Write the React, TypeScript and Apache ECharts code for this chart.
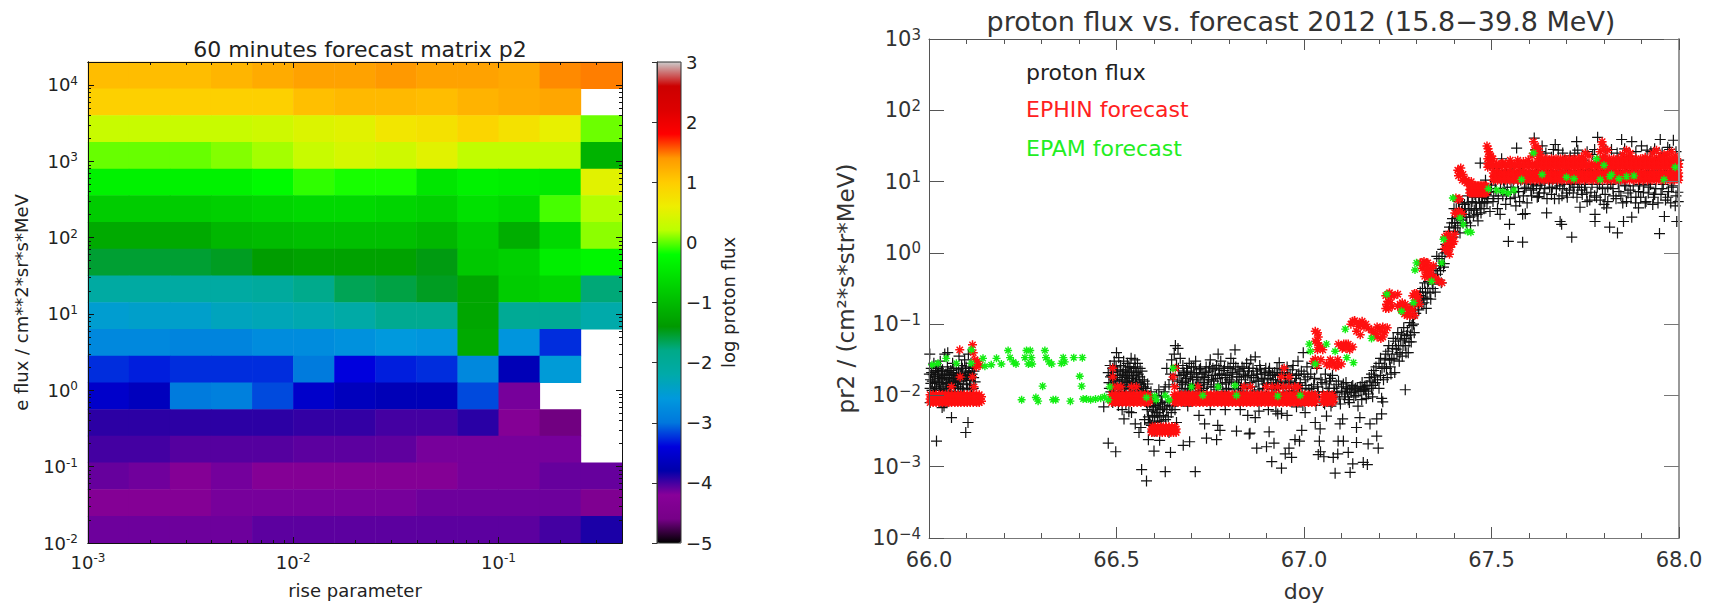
import React, { useEffect, useRef } from "react";
import * as echarts from "echarts";

// ---------- left panel: forecast matrix (log proton flux), rows listed from top to bottom ----------
const riseBins = ["1","2","3","4","5","6","7","8","9","10","11","12","13"];
const fluxBins = ["1","2","3","4","5","6","7","8","9","10","11","12","13","14","15","16","17","18"];
const matrixRows: (number | null)[][] = [
  [1.12,1.12,1.12,1.18,1.26,1.33,1.33,1.4,1.33,1.33,1.28,1.44,1.47],
  [0.95,0.95,0.95,0.95,0.95,1.1,1.15,1.15,1.12,1.2,1.25,1.3,null],
  [0.3,0.3,0.3,0.3,0.35,0.45,0.5,0.7,0.75,0.9,0.75,0.55,0.03],
  [0.02,0.02,0.02,0.08,0.15,0.3,0.4,0.35,0.5,0.25,0.25,0.25,-1.1],
  [-0.35,-0.35,-0.35,-0.35,-0.25,-0.1,-0.15,-0.15,-0.5,-0.35,-0.4,-0.45,0.5],
  [-0.8,-0.8,-0.8,-0.75,-0.7,-0.65,-0.65,-0.7,-0.75,-0.55,-0.65,-0.05,0.18],
  [-1.2,-1.2,-1.2,-1.05,-1,-0.95,-0.95,-0.95,-1.05,-0.8,-1.15,-0.65,0.1],
  [-1.55,-1.55,-1.55,-1.5,-1.35,-1.3,-1.3,-1.3,-1.45,-0.85,-0.75,-0.4,-0.3],
  [-2.1,-2.1,-2.1,-2.1,-2.05,-1.85,-1.65,-1.6,-1.5,-1.25,-0.8,-0.7,-1.75],
  [-2.5,-2.45,-2.45,-2.35,-2.3,-2.25,-2.15,-1.9,-1.9,-1.25,-1.95,-1.95,-2.2],
  [-2.8,-2.8,-2.85,-2.85,-2.75,-2.75,-2.7,-2.6,-2.65,-1.2,-2.65,-3.25,null],
  [-3.25,-3.3,-3.25,-3.25,-3.25,-2.95,-3.4,-3.3,-3.25,-2.8,-3.7,-2.55,null],
  [-3.55,-3.65,-2.95,-2.9,-3.15,-3.55,-3.65,-3.7,-3.7,-3.15,-4.15,null,null],
  [-3.93,-3.93,-3.93,-3.93,-3.93,-3.95,-3.95,-4,-4,-3.92,-4.3,-4.62,null],
  [-4,-4,-4.05,-4.05,-4.05,-4.07,-4.07,-4.08,-4.15,-4.15,-4.15,-4.15,null],
  [-4.1,-4.13,-4.3,-4.14,-4.3,-4.3,-4.3,-4.3,-4.3,-4.15,-4.15,-4.1,-4.1],
  [-4.3,-4.3,-4.3,-4.15,-4.15,-4.15,-4.15,-4.15,-4.12,-4.12,-4.12,-4.12,-4.4],
  [-4.12,-4.12,-4.12,-4.12,-4.07,-4.07,-4.07,-4.07,-4.07,-4.07,-4.07,-4,-3.88],
];
const spectralColors = ["#000000","#770088","#880099","#0000aa","#0000dd","#0077dd","#0099dd","#00aaaa","#00aa88","#009900","#00bb00","#00dd00","#00ff00","#bbff00","#eeee00","#ffcc00","#ff9900","#ff0000","#dd0000","#cc0000","#cccccc"];
const riseMajor = [0.001,0.01,0.1];
const riseMinor = [0.002,0.003,0.004,0.005,0.006,0.007,0.008,0.009,0.02,0.03,0.04,0.05,0.06,0.07,0.08,0.09,0.2,0.3,0.4];
const eFluxMajor = [0.01,0.1,1,10,100,1000,10000];
const eFluxMinor = [0.02,0.03,0.04,0.05,0.06,0.07,0.08,0.09,0.2,0.3,0.4,0.5,0.6,0.7,0.8,0.9,2,3,4,5,6,7,8,9,20,30,40,50,60,70,80,90,200,300,400,500,600,700,800,900,2000,3000,4000,5000,6000,7000,8000,9000,20000];

// ---------- right panel: [doy, log10 flux] ----------
const protonFlux: [number, number][] = [
[66.002,-1.42],[66.004,-1.78],[66.006,-1.62],[66.008,-1.93],[66.011,-1.71],[66.013,-1.55],[66.015,-1.88],[66.017,-1.67],[66.019,-1.98],[66.021,-1.6],[66.024,-1.8],[66.026,-1.73],[66.028,-1.91],[66.03,-1.52],[66.033,-1.66],[66.035,-1.85],[66.037,-1.75],[66.04,-1.97],[66.042,-1.42],[66.045,-1.7],[66.047,-1.83],[66.049,-1.6],[66.05,-1.4],[66.053,-1.9],[66.055,-1.77],[66.058,-1.65],[66.06,-1.86],[66.063,-1.55],[66.065,-1.72],[66.068,-1.95],[66.07,-1.8],[66.073,-1.62],[66.075,-1.74],[66.078,-1.88],[66.08,-1.45],[66.083,-1.69],[66.085,-1.8],[66.087,-1.58],[66.09,-1.92],[66.092,-1.76],[66.095,-1.5],[66.097,-1.66],[66.1,-1.84],[66.102,-1.72],[66.105,-1.42],[66.107,-1.62],[66.11,-1.79],[66.112,-1.55],[66.115,-1.7],[66.118,-1.9],[66.12,-1.66],[66.123,-1.81],
[66.02,-2.64],[66.04,-2.15],[66.035,-2.17],[66.06,-2.31],[66.104,-2.38],[66.098,-2.52],[66.003,-2.1],
[66.478,-1.68],[66.48,-1.82],[66.483,-1.58],[66.485,-1.95],[66.487,-1.72],[66.49,-1.62],[66.492,-1.88],[66.494,-1.52],[66.497,-1.78],[66.5,-1.4],[66.502,-1.66],[66.504,-1.9],[66.506,-1.47],[66.509,-1.75],[66.511,-1.58],[66.514,-1.84],[66.516,-1.7],[66.519,-1.52],[66.521,-1.95],[66.524,-1.64],[66.526,-1.8],[66.529,-1.55],[66.531,-1.72],[66.534,-1.88],[66.536,-1.6],[66.539,-1.48],[66.541,-1.76],[66.544,-1.9],[66.546,-1.62],[66.549,-1.5],[66.551,-1.82],[66.554,-1.68],[66.556,-1.55],[66.559,-1.92],[66.562,-1.74],[66.565,-1.85],[66.568,-1.66],[66.571,-1.98],[66.574,-1.8],[66.577,-1.9],[66.58,-2.1],[66.583,-1.84],[66.586,-2.03],[66.589,-2.15],[66.592,-1.95],[66.595,-2.22],[66.598,-2.08],[66.601,-2.3],[66.604,-2.14],[66.607,-2],[66.61,-2.24],[66.613,-1.92],[66.617,-2.12],[66.62,-2.02],[66.623,-2.18],[66.627,-1.95],[66.63,-1.88],[66.634,-1.62],[66.637,-2.08],[66.64,-1.85],[66.644,-1.7],[66.647,-1.5],[66.65,-1.78],[66.654,-1.42],[66.657,-1.3],[66.66,-1.58],[66.664,-1.34],[66.667,-1.72],[66.67,-1.48],[66.674,-1.85],[66.677,-1.58],[66.68,-1.68],[66.684,-1.8],[66.687,-1.62],[66.69,-1.92],[66.694,-1.55],[66.697,-1.74],[66.7,-1.6],[66.704,-1.86],[66.707,-1.68],[66.711,-1.52],[66.714,-1.78],[66.718,-1.95],[66.721,-1.64],[66.725,-1.82],[66.728,-1.7],[66.732,-1.9],[66.735,-1.75],[66.739,-1.6],[66.742,-1.85],[66.746,-1.66],[66.75,-1.5],[66.753,-1.78],[66.757,-1.62],[66.76,-1.88],[66.764,-1.72],[66.767,-1.58],[66.771,-1.42],[66.775,-1.7],[66.778,-1.52],[66.782,-1.84],[66.786,-1.65],[66.79,-1.75],[66.793,-1.92],[66.797,-1.6],[66.801,-1.78],[66.805,-1.48],[66.808,-1.68],[66.812,-1.55],[66.816,-1.36],[66.82,-1.82],[66.824,-1.64],[66.827,-1.74],[66.831,-1.9],[66.835,-1.6],[66.839,-1.7],[66.843,-1.84],[66.847,-1.55],[66.85,-1.72],[66.854,-1.62],[66.858,-1.5],[66.862,-1.88],[66.866,-1.75],[66.87,-1.46],[66.874,-1.66],[66.878,-1.8],[66.882,-1.58],[66.886,-1.7],[66.89,-1.9],[66.894,-1.76],[66.898,-1.62],[66.902,-1.84],[66.906,-1.66],[66.91,-1.72],[66.914,-1.92],[66.918,-1.78],[66.922,-1.68],[66.926,-1.86],[66.93,-1.72],[66.934,-1.54],[66.938,-1.8],[66.942,-1.64],[66.946,-1.9],[66.95,-1.76],[66.955,-1.6],[66.959,-1.82],[66.963,-1.7],[66.967,-1.94],[66.971,-1.58],[66.975,-1.84],[66.98,-1.72],[66.984,-1.52],[66.988,-1.9],[66.993,-1.66],[66.998,-1.4],[67.003,-1.78],[67.008,-1.6],[67.013,-1.92],
[66.49,-2.1],[66.5,-2.06],[66.505,-2.14],[66.515,-2.2],[66.525,-2.12],[66.533,-2.23],[66.478,-2.67],[66.466,-2.16],[66.498,-2.79],[66.52,-2.33],[66.54,-2.24],[66.55,-2.4],[66.56,-2.52],[66.567,-3.04],[66.575,-2.34],[66.58,-3.2],[66.565,-2.45],[66.585,-2.62],[66.59,-2.4],[66.6,-2.78],[66.605,-2.5],[66.615,-2.63],[66.63,-3.07],[66.64,-2.52],[66.644,-2.8],[66.66,-2.38],[66.678,-2.7],[66.695,-2.65],[66.69,-2.15],[66.71,-3.07],[66.72,-2.28],[66.74,-2.6],[66.735,-2.4],[66.767,-2.62],[66.776,-2.49],[66.75,-2.2],[66.77,-2.42],[66.79,-2.2],[66.82,-2.5],[66.83,-2.2],[66.854,-2.54],[66.85,-2.28],[66.87,-2.31],[66.874,-2.74],[66.856,-2.53],[66.88,-2.22],[66.907,-2.51],[66.9,-2.72],[66.92,-2.67],[66.914,-2.93],[66.94,-3.02],[66.95,-2.82],[66.96,-2.74],[66.967,-2.87],[66.976,-2.62],[66.988,-2.64],[66.994,-2.49],[67.003,-2.24],[66.905,-2.2],[66.925,-2.22],[66.93,-2.26],[66.94,-2.25],[66.955,-2.28],[66.98,-2.16],[66.997,-2.14],
[67.018,-1.7],[67.022,-1.55],[67.026,-1.85],[67.03,-2.38],[67.034,-1.62],[67.038,-1.95],[67.043,-2.47],[67.041,-2.64],[67.044,-2.79],[67.038,-2.83],[67.053,-2.86],[67.048,-1.82],[67.052,-2.1],[67.057,-1.7],[67.06,-2.29],[67.064,-1.95],[67.068,-1.8],[67.072,-2.15],[67.076,-1.72],[67.078,-2.87],[67.081,-1.95],[67.083,-3.09],[67.086,-1.85],[67.09,-2.82],[67.091,-2.64],[67.094,-2.05],[67.096,-2.4],[67.1,-1.88],[67.103,-2.33],[67.105,-2.64],[67.108,-2.02],[67.112,-1.82],[67.116,-1.95],[67.118,-2.8],[67.121,-2.1],[67.123,-3.08],[67.127,-1.88],[67.13,-2.96],[67.133,-2.02],[67.137,-1.9],[67.14,-2.66],[67.14,-2.45],[67.144,-2.15],[67.149,-2.31],[67.152,-1.94],[67.155,-1.82],[67.158,-2.94],[67.16,-1.92],[67.163,-1.91],[67.166,-2.04],[67.169,-2.97],[67.171,-2.68],[67.174,-1.75],[67.176,-2.4],[67.18,-1.9],[67.183,-2.02],[67.186,-1.65],[67.19,-1.82],[67.194,-2.33],[67.194,-2.57],[67.198,-2.74],[67.2,-1.55],[67.204,-1.72],[67.207,-2.04],[67.207,-2.26],[67.21,-2.09],[67.214,-1.6],[67.218,-1.42],[67.222,-1.75],[67.226,-1.3],[67.23,-1.6],[67.234,-1.48],[67.238,-1.2],[67.242,-1.68],[67.246,-1.35],[67.25,-1.12],[67.254,-1.52],[67.258,-1.22],[67.262,-1.45],[67.266,-1.05],[67.27,-1.92],[67.27,-1.3],[67.274,-1.16],[67.278,-1.4],[67.282,-0.98],[67.286,-1.25],[67.29,-0.9],[67.294,-1.12],[67.298,-0.85],[67.29,-0.72],[67.302,-0.66],[67.306,-0.8],[67.31,-0.55],[67.314,-0.72],[67.318,-0.62],[67.322,-0.42],[67.326,-0.78],[67.33,-0.5],[67.334,-0.32],[67.338,-0.65],[67.342,-0.44],[67.346,-0.25],[67.35,-0.55],[67.354,-0.05],[67.358,-0.38],[67.362,-0.18],[67.366,-0.42],[67.37,0.05],[67.374,-0.15],[67.378,0.12],[67.382,0.04],[67.386,0.3],[67.39,0.16],[67.394,0.42],[67.398,0.22],[67.4,0.62],[67.404,0.35],[67.408,0.5],[67.412,0.72],[67.416,0.28],[67.42,0.58],[67.424,0.42],[67.428,0.68],[67.432,0.5],[67.436,0.8],[67.44,0.6],[67.444,0.38],[67.448,0.72],[67.452,0.52],[67.456,0.82],[67.46,0.62],[67.464,0.45],[67.468,0.7],[67.47,1.26],[67.472,0.56],[67.476,0.78],[67.48,0.62],[67.484,1.02],[67.488,0.7],[67.492,0.85],[67.496,0.58],[67.5,0.95],[67.504,0.72],[67.508,1.18],[67.512,0.86],[67.516,0.62],[67.52,1.05],[67.523,0.54],[67.527,1.32],[67.53,0.8],[67.534,1.0],[67.538,0.68],[67.542,0.92],[67.545,0.16],[67.548,0.4],[67.55,0.76],[67.555,1.12],[67.56,0.85],[67.565,0.66],[67.567,1.47],[67.57,0.98],[67.575,0.72],[67.58,1.15],[67.583,0.15],[67.583,0.54],[67.588,0.9],[67.59,0.55],[67.595,0.7],[67.6,1.12],[67.605,0.88],[67.61,0.96],[67.614,1.61],[67.618,1.45],[67.622,0.78],[67.625,0.79],[67.63,0.95],[67.635,1.5],[67.64,0.84],[67.647,0.56],[67.65,1.15],[67.655,0.92],[67.66,0.82],[67.665,1.45],[67.67,1.52],[67.675,0.98],[67.68,0.76],[67.683,0.44],[67.687,0.4],[67.69,0.9],[67.695,1.3],[67.7,0.84],[67.705,1.15],[67.71,0.96],[67.714,0.22],[67.718,0.84],[67.722,1.4],[67.727,1.56],[67.73,0.92],[67.736,0.64],[67.74,0.88],[67.745,1.3],[67.75,0.96],[67.755,0.72],[67.76,1.16],[67.765,0.85],[67.77,1.38],[67.776,0.44],[67.776,0.54],[67.78,0.78],[67.783,1.62],[67.788,0.96],[67.795,1.15],[67.8,0.68],[67.807,0.63],[67.81,0.92],[67.815,0.36],[67.82,1.45],[67.825,0.8],[67.83,1.15],[67.836,0.28],[67.84,0.86],[67.847,1.59],[67.852,0.44],[67.855,0.95],[67.86,0.72],[67.865,1.35],[67.87,0.88],[67.874,1.56],[67.874,0.5],[67.88,1.15],[67.885,0.78],[67.892,0.63],[67.895,0.96],[67.9,1.5],[67.905,0.85],[67.91,0.7],[67.915,1.2],[67.92,0.92],[67.925,1.42],[67.93,0.68],[67.935,0.82],[67.94,1.3],[67.948,0.27],[67.95,1.59],[67.955,0.9],[67.961,0.51],[67.965,1.15],[67.97,0.78],[67.975,1.45],[67.98,0.92],[67.985,1.58],[67.99,0.66],[67.994,0.44],[67.997,0.85],[67.999,1.3],
[67.52,1.15],[67.54,1.16],[67.56,1.14],[67.58,1.16],[67.62,1.15],[67.64,1.16],[67.66,1.15],[67.68,1.14],[67.7,1.16],[67.72,1.15],[67.74,1.15],[67.76,1.16],[67.78,1.14],[67.8,1.15],[67.82,1.16],[67.84,1.15],[67.86,1.15],[67.88,1.16],[67.9,1.14],[67.92,1.15],[67.94,1.16],[67.96,1.15],[67.98,1.15],
];
// the darkest parts of the cloud, read as a second pass over the picture
const protonFluxDense: [number, number][] = [
[66.001,-1.7],[66.003,-1.9],[66.005,-1.83],[66.007,-1.68],[66.009,-1.8],[66.012,-1.96],[66.014,-1.74],[66.016,-1.82],[66.018,-1.65],[66.02,-1.9],[66.023,-1.7],[66.025,-1.62],[66.027,-1.84],[66.029,-1.76],[66.031,-1.93],[66.034,-1.78],[66.036,-1.64],[66.038,-1.88],[66.041,-1.72],[66.043,-1.82],[66.046,-1.92],[66.048,-1.75],[66.051,-1.66],[66.052,-1.83],[66.054,-1.7],[66.056,-1.94],[66.059,-1.8],[66.061,-1.68],[66.064,-1.82],[66.066,-1.62],[66.069,-1.76],[66.071,-1.9],[66.074,-1.7],[66.076,-1.84],[66.079,-1.64],[66.081,-1.78],[66.084,-1.9],[66.086,-1.7],[66.089,-1.62],[66.091,-1.84],[66.093,-1.96],[66.096,-1.74],[66.099,-1.6],[66.101,-1.78],[66.103,-1.9],[66.106,-1.68],[66.108,-1.85],[66.111,-1.72],[66.113,-1.92],[66.116,-1.62],[66.119,-1.75],[66.122,-1.6],
[66.481,-1.9],[66.484,-1.74],[66.488,-1.84],[66.491,-1.68],[66.493,-1.78],[66.496,-1.92],[66.499,-1.6],[66.501,-1.8],[66.503,-1.72],[66.507,-1.86],[66.51,-1.64],[66.512,-1.95],[66.515,-1.78],[66.518,-1.66],[66.52,-1.85],[66.523,-1.74],[66.525,-1.92],[66.528,-1.68],[66.53,-1.82],[66.533,-1.6],[66.535,-1.76],[66.538,-1.9],[66.54,-1.66],[66.543,-1.8],[66.545,-1.72],[66.548,-1.94],[66.55,-1.6],[66.553,-1.78],[66.555,-1.88],[66.558,-1.7],[66.56,-1.82],[66.563,-1.62],[66.566,-1.9],[66.569,-1.78],[66.572,-1.88],[66.576,-2.0],[66.579,-1.94],[66.582,-2.02],
[66.582,-2.2],[66.585,-2.3],[66.588,-2.38],[66.59,-2.1],[66.593,-2.42],[66.596,-2.28],[66.597,-2.5],[66.599,-2.16],[66.602,-2.38],[66.603,-2.1],[66.606,-2.24],[66.609,-2.36],[66.611,-2.12],[66.614,-2.3],[66.616,-2.2],[66.619,-2.36],[66.622,-2.1],[66.625,-2.28],[66.628,-2.16],[66.631,-2.34],[66.634,-2.2],[66.638,-2.3],[66.642,-2.14],[66.646,-2.24],[66.65,-2.15],[66.656,-2.2],
[66.662,-1.8],[66.665,-1.62],[66.669,-1.9],[66.672,-1.72],[66.676,-1.82],[66.679,-1.7],[66.683,-1.94],[66.686,-1.76],[66.689,-1.66],[66.692,-1.84],[66.696,-1.9],[66.699,-1.7],[66.703,-1.78],[66.706,-1.6],[66.71,-1.88],[66.713,-1.68],[66.717,-1.75],[66.72,-1.86],[66.724,-1.62],[66.727,-1.93],[66.731,-1.74],[66.734,-1.82],[66.738,-1.68],[66.741,-1.96],[66.745,-1.78],[66.748,-1.6],[66.752,-1.88],[66.755,-1.72],[66.759,-1.8],[66.763,-1.64],[66.766,-1.92],[66.77,-1.76],[66.773,-1.62],[66.777,-1.84],[66.781,-1.7],[66.784,-1.95],[66.788,-1.6],[66.792,-1.82],[66.795,-1.72],[66.799,-1.9],[66.803,-1.62],[66.806,-1.8],[66.81,-1.7],[66.814,-1.92],[66.818,-1.6],[66.821,-1.74],[66.825,-1.86],[66.829,-1.66],[66.833,-1.78],[66.837,-1.94],[66.84,-1.62],[66.844,-1.74],[66.848,-1.9],[66.852,-1.66],[66.856,-1.82],[66.86,-1.72],[66.864,-1.62],[66.868,-1.94],[66.872,-1.8],[66.876,-1.7],[66.88,-1.92],[66.884,-1.64],[66.888,-1.78],[66.892,-1.84],[66.896,-1.68],[66.9,-1.96],[66.904,-1.76],[66.908,-1.62],[66.912,-1.82],[66.916,-1.7],[66.92,-1.9],[66.924,-1.78],[66.928,-1.62],[66.932,-1.88],[66.936,-1.7],[66.94,-1.82],[66.944,-1.96],[66.948,-1.68],[66.952,-1.84],[66.957,-1.72],[66.961,-1.94],[66.965,-1.8],[66.969,-1.64],[66.973,-1.9],[66.978,-1.76],[66.982,-1.96],[66.986,-1.7],[66.99,-1.82],[66.995,-1.9],[67,-1.7],[67.005,-1.86],[67.01,-1.74],[67.015,-2.0],
[67.02,-1.9],[67.024,-2.02],[67.028,-1.76],[67.032,-2.14],[67.036,-1.88],[67.04,-2.02],[67.045,-1.78],[67.05,-1.95],[67.055,-2.12],[67.059,-1.84],[67.063,-2.03],[67.067,-1.9],[67.071,-1.76],[67.075,-2.1],[67.08,-1.9],[67.084,-2.02],[67.088,-1.96],[67.092,-1.8],[67.097,-2.12],[67.101,-1.94],[67.105,-1.84],[67.11,-1.98],[67.114,-1.9],[67.118,-2.06],[67.122,-1.92],[67.126,-1.96],[67.13,-1.86],[67.134,-1.92],[67.138,-2.0],[67.142,-1.9],[67.146,-1.94],[67.15,-1.88],[67.154,-2.06],[67.158,-1.92],[67.161,-1.88],[67.165,-1.94],[67.168,-1.86],[67.172,-1.98],[67.176,-1.8],[67.18,-1.7],[67.184,-1.86],[67.188,-1.74],[67.192,-1.6],[67.196,-1.78],[67.2,-1.9],[67.204,-1.48],[67.208,-1.62],[67.212,-1.78],[67.216,-1.5],[67.22,-1.62],[67.224,-1.38],[67.228,-1.5],[67.232,-1.7],[67.236,-1.34],[67.24,-1.5],[67.244,-1.24],[67.248,-1.42],[67.252,-1.3],[67.256,-1.4],[67.26,-1.14],[67.264,-1.3],[67.268,-1.2],[67.272,-1.4],[67.276,-1.1],[67.28,-1.25],[67.284,-1.15],[67.288,-1.02],[67.292,-1],
[67.296,-0.75],[67.3,-0.62],[67.304,-0.75],[67.308,-0.6],[67.312,-0.66],[67.316,-0.5],[67.32,-0.7],[67.324,-0.55],[67.328,-0.64],[67.332,-0.4],[67.336,-0.56],[67.34,-0.3],[67.344,-0.5],[67.348,-0.36],[67.352,-0.22],[67.356,-0.3],[67.36,-0.08],[67.364,-0.25],[67.368,-0.05],[67.372,-0.2],[67.376,0],[67.38,0.2],[67.384,0.1],[67.388,0.36],[67.392,0.2],[67.396,0.48],[67.4,0.3],[67.402,0.42],[67.406,0.62],[67.41,0.38],[67.414,0.6],[67.418,0.46],[67.422,0.7],[67.426,0.54],[67.43,0.62],[67.434,0.42],[67.438,0.7],[67.442,0.5],[67.446,0.62],[67.45,0.78],[67.454,0.6],[67.458,0.7],[67.462,0.54],[67.466,0.78],[67.47,0.62],[67.474,0.7],[67.478,0.85],[67.482,0.72],[67.486,0.82],
[67.49,0.76],[67.498,0.9],[67.506,0.8],[67.51,1.0],[67.518,0.76],[67.524,0.9],[67.532,1.02],[67.54,0.82],[67.546,1.05],[67.552,0.92],[67.558,1.0],[67.563,0.78],[67.572,0.86],[67.578,1.02],[67.585,0.8],[67.592,0.92],[67.598,0.98],[67.607,0.8],[67.612,0.9],[67.62,0.94],[67.628,0.84],[67.634,0.98],[67.642,0.9],[67.648,0.76],[67.654,0.98],[67.662,0.92],[67.668,0.76],[67.673,0.9],[67.682,0.94],[67.688,0.8],[67.694,0.96],[67.702,0.78],[67.708,0.88],[67.715,0.98],[67.72,0.92],[67.728,0.78],[67.734,0.96],[67.742,0.82],[67.748,0.92],[67.754,0.84],[67.762,0.74],[67.768,0.96],[67.775,0.8],[67.782,0.92],[67.79,0.74],[67.796,0.9],[67.803,0.82],[67.81,0.72],[67.818,0.96],[67.824,0.9],[67.832,0.76],[67.838,0.98],[67.845,0.8],[67.85,0.7],[67.858,0.94],[67.864,0.84],[67.872,0.78],[67.878,0.94],[67.884,0.7],[67.892,0.86],[67.898,0.78],[67.906,0.94],[67.912,0.72],[67.918,0.84],[67.924,0.96],[67.932,0.78],[67.938,0.9],[67.944,0.7],[67.952,0.82],[67.958,0.96],[67.964,0.74],[67.972,0.86],[67.978,0.7],[67.984,0.94],[67.992,0.8],[67.998,0.72],
[67.63,1.42],[67.645,1.4],[67.66,1.34],[67.678,1.44],[67.69,1.4],[67.71,1.36],[67.73,1.44],[67.755,1.42],[67.775,1.45],[67.805,1.44],[67.835,1.4],[67.855,1.46],[67.885,1.42],[67.915,1.44],[67.935,1.46],[67.955,1.4],[67.97,1.48],[67.992,1.42],
];

const ephinBands: { levels: number[]; times: number[] }[] = [
  { levels: [-1.99, -2.05, -2.1], times: [66.003,66.011,66.019,66.027,66.036,66.044,66.052,66.06,66.069,66.077,66.085,66.094,66.102,66.11,66.118,66.127,66.134,66.487,66.497,66.507,66.516,66.526,66.536,66.546,66.555,66.565,66.575,66.584,66.654,66.664,66.673,66.683,66.693,66.702,66.712,66.722,66.731,66.741,66.751,66.76,66.77,66.78,66.789,66.799,66.809,66.818,66.828,66.838,66.847,66.857,66.867,66.876,66.886,66.896,66.905,66.915,66.925,66.934,66.944,66.954,66.963,66.973,66.983,66.992,67.002,67.012,67.021,67.03,67.052,67.062,67.075] },
  { levels: [-2.02, -2.08], times: [66.006,66.015,66.024,66.032,66.04,66.049,66.057,66.065,66.073,66.082,66.09,66.098,66.107,66.122,66.131,66.14,66.492,66.502,66.512,66.521,66.531,66.541,66.55,66.56,66.57,66.579,66.589,66.659,66.668,66.678,66.688,66.697,66.707,66.717,66.726,66.736,66.746,66.755,66.765,66.775,66.784,66.794,66.804,66.813,66.823,66.833,66.842,66.852,66.862,66.871,66.881,66.891,66.9,66.91,66.92,66.929,66.939,66.949,66.958,66.968,66.978,66.987,66.997,67.007,67.016,67.026,67.056,67.066,67.078] },
  { levels: [-1.88], times: [66.49,66.502,66.512,66.54,66.553,66.655,66.717,66.84,66.857,66.9,66.915,66.93,66.945,66.96,66.975,66.985] },
  { levels: [-2.44, -2.49], times: [66.596,66.603,66.61,66.617,66.625,66.632,66.64,66.648,66.656] },
  { levels: [-2.47, -2.52], times: [66.594,66.601,66.608,66.615,66.622,66.63,66.637,66.645,66.652,66.659] },
  { levels: [1.32, 1.27, 1.22], times: [67.625,67.637,67.648,67.66,67.672,67.684,67.696,67.708,67.72,67.732,67.744,67.79,67.802,67.814,67.826,67.838,67.85,67.862,67.874,67.886,67.898,67.91,67.922,67.934,67.946,67.958,67.97,67.982,67.994] },
  { levels: [1.25, 1.2], times: [67.49,67.502,67.514,67.526,67.538,67.55,67.562,67.574,67.586,67.598,67.61,67.622,67.634,67.646,67.658,67.67,67.682,67.694,67.706,67.718,67.73,67.742,67.754,67.766,67.778,67.79,67.802,67.814,67.826,67.838,67.85,67.862,67.874,67.886,67.898,67.91,67.922,67.934,67.946,67.958,67.97,67.982,67.994,67.999] },
  { levels: [1.12, 1.07, 1.02], times: [67.505,67.516,67.527,67.538,67.549,67.56,67.571,67.582,67.593,67.604,67.616,67.628,67.64,67.652,67.664,67.676,67.688,67.7,67.712,67.724,67.736,67.748,67.76,67.772,67.784,67.796,67.808,67.82,67.832,67.844,67.856,67.868,67.88,67.892,67.904,67.916,67.928,67.94,67.952,67.964,67.976,67.988,67.999] },
  { levels: [1.09, 1.04], times: [67.51,67.522,67.534,67.546,67.558,67.57,67.582,67.594,67.622,67.634,67.646,67.658,67.67,67.682,67.694,67.706,67.718,67.73,67.742,67.754,67.766,67.778,67.79,67.802,67.814,67.826,67.838,67.85,67.862,67.874,67.886,67.898,67.91,67.922,67.934,67.946,67.958,67.97,67.982,67.994] },
  { levels: [0.94, 0.89, 0.84], times: [67.446,67.454,67.462,67.47,67.478,67.486,67.442,67.45,67.458,67.466,67.474,67.482] },
];
const ephinPoints: [number, number][] = [
[66.116,-1.29],[66.122,-1.5],[66.13,-1.52],[66.082,-1.36],[66.083,-1.74],[66.116,-1.74],[66.12,-1.88],[66.06,-1.88],[66.126,-1.6],[66.118,-1.4],[66.136,-1.58],
[66.49,-1.62],[66.49,-1.74],[66.651,-1.74],[66.657,-1.62],[66.947,-1.62],[66.96,-1.74],[66.94,-1.74],
[67.03,-1.1],[67.036,-1.12],[67.038,-1.18],[67.03,-1.24],[67.036,-1.26],[67.04,-1.3],[67.05,-1.36],[67.036,-1.36],[67.044,-1.32],
[67.025,-1.52],[67.035,-1.58],[67.045,-1.5],[67.06,-1.56],[67.07,-1.5],[67.08,-1.56],[67.09,-1.5],[67.1,-1.56],[67.075,-1.53],[67.085,-1.6],[67.03,-1.49],[67.068,-1.58],[67.092,-1.58],
[67.092,-1.28],[67.102,-1.34],[67.112,-1.28],[67.122,-1.36],[67.118,-1.28],[67.13,-1.32],[67.106,-1.28],[67.1,-1.3],[67.112,-1.34],
[67.125,-1],[67.13,-0.96],[67.135,-0.95],[67.145,-1.03],[67.155,-0.96],[67.165,-1],[67.14,-1.1],[67.15,-1.15],[67.172,-1.06],[67.14,-0.98],[67.15,-1],[67.16,-1.04],
[67.18,-1.08],[67.19,-1.14],[67.2,-1.06],[67.205,-1.2],[67.215,-1.12],[67.222,-1.05],[67.195,-1.04],[67.185,-1.12],[67.195,-1.18],[67.21,-1.04],[67.205,-1.1],[67.21,-1.18],
[67.218,-0.6],[67.224,-0.58],[67.228,-0.56],[67.234,-0.6],[67.24,-0.6],[67.25,-0.58],[67.225,-0.68],[67.218,-0.78],[67.235,-0.75],[67.23,-0.7],[67.22,-0.72],[67.226,-0.78],
[67.25,-0.75],[67.256,-0.72],[67.26,-0.8],[67.265,-0.76],[67.27,-0.72],[67.275,-0.78],[67.28,-0.85],[67.285,-0.78],[67.29,-0.8],[67.275,-0.88],[67.262,-0.7],[67.295,-0.88],[67.268,-0.86],[67.283,-0.88],
[67.29,-0.6],[67.295,-0.57],[67.3,-0.57],[67.308,-0.72],[67.295,-0.7],[67.3,-0.66],[67.305,-0.62],
[67.31,-0.14],[67.316,-0.14],[67.32,-0.12],[67.326,-0.14],[67.33,-0.14],[67.315,-0.22],[67.32,-0.2],[67.326,-0.24],[67.338,-0.22],[67.332,-0.22],[67.345,-0.18],[67.322,-0.33],[67.328,-0.3],[67.332,-0.34],[67.338,-0.3],[67.342,-0.38],[67.346,-0.34],[67.352,-0.36],[67.36,-0.4],[67.368,-0.42],
[67.375,0.22],[67.38,0.24],[67.385,0.26],[67.39,0.2],[67.395,0.2],[67.38,0.12],[67.385,0.14],[67.39,0.08],[67.395,0.12],[67.4,0.16],[67.375,0.06],[67.388,-0.02],[67.402,0.26],[67.383,0.03],
[67.405,0.77],[67.41,0.75],[67.415,0.76],[67.402,0.56],[67.407,0.54],[67.412,0.58],[67.417,0.57],[67.422,0.55],
[67.41,1.16],[67.414,1.14],[67.418,1.19],[67.412,1.08],[67.418,1.1],[67.424,1.1],[67.432,1.02],[67.44,1.0],[67.428,1.04],[67.422,1.02],[67.434,0.98],[67.446,1],
[67.488,1.5],[67.491,1.46],[67.492,1.42],[67.495,1.38],[67.498,1.36],[67.49,1.32],[67.5,1.28],[67.494,1.3],[67.504,1.32],
[67.53,1.26],[67.55,1.3],[67.57,1.3],[67.585,1.28],[67.598,1.3],[67.608,1.36],[67.618,1.5],[67.622,1.42],[67.63,1.38],[67.612,1.56],[67.74,1.34],[67.75,1.4],[67.79,1.42],[67.795,1.52],[67.8,1.36],[67.81,1.44],[67.795,1.56],[67.85,1.38],[67.86,1.44],[67.865,1.34],[67.91,1.34],[67.93,1.4],[67.94,1.44],[67.96,1.38],[67.98,1.42],[67.99,1.36],[67.615,1.44],[67.625,1.46],[67.76,1.36],[67.8,1.46],[67.87,1.4],[67.95,1.36],[67.97,1.38],
];
const epamPoints: [number, number][] = [
[66.008,-1.57],[66.024,-1.55],[66.046,-1.48],[66.073,-1.55],[66.113,-1.36],[66.113,-1.55],[66.144,-1.48],[66.149,-1.59],[66.166,-1.57],[66.18,-1.48],[66.193,-1.56],
[66.211,-1.37],[66.26,-1.37],[66.27,-1.37],[66.309,-1.37],[66.216,-1.47],[66.256,-1.47],[66.273,-1.47],[66.312,-1.47],[66.358,-1.47],[66.386,-1.47],[66.409,-1.47],[66.225,-1.53],[66.232,-1.56],[66.265,-1.56],[66.275,-1.56],[66.32,-1.53],[66.327,-1.56],[66.353,-1.55],[66.362,-1.53],[66.402,-1.73],[66.303,-1.87],[66.407,-1.87],
[66.247,-2.06],[66.285,-2.03],[66.291,-2.08],[66.331,-2.06],[66.338,-2.06],[66.377,-2.08],[66.411,-2.05],[66.42,-2.05],[66.431,-2.06],[66.444,-2.05],[66.458,-2.04],[66.468,-2.02],[66.478,-2.06],[66.482,-1.88],
[66.58,-2.03],[66.602,-2.01],[66.606,-2.06],[66.63,-2],[66.64,-2.06],[66.651,-1.62],[66.7,-1.88],[66.771,-1.88],[66.816,-1.86],[66.73,-2],[66.82,-2],[66.93,-2.01],[66.99,-2],
[67.014,-1.28],[67.017,-1.38],[67.03,-1.56],[67.06,-1.28],[67.083,-1.38],[67.114,-1.47],[67.132,-1.54],[67.11,-1.07],[67.18,-1.2],[67.221,-0.58],[67.26,-0.82],[67.292,-0.7],[67.3,-0.14],[67.296,-0.24],[67.34,-0.4],[67.367,-0.14],[67.372,0.19],[67.397,0.77],[67.416,0.49],[67.425,0.4],[67.436,0.3],[67.445,0.29],[67.492,0.9],[67.514,0.88],[67.53,0.86],[67.545,0.84],[67.56,0.88],
[67.612,1.4],[67.58,1.03],[67.635,1.1],[67.78,1.32],[67.8,1.23],[67.79,1.03],[67.815,1.07],[67.86,1.07],[67.88,1.08],[67.96,1.03],[67.99,1.2],[67.7,1.06],[67.72,1.04],[67.82,1.1],[67.84,1.04],
];

const doyMajorLabels = ["66.0","66.5","67.0","67.5","68.0"];
const legendLabels = ["proton flux","EPHIN forecast","EPAM forecast"];
const legendColors = ["#222222","#ff2020","#22ee22"];

const plusMark = "path://M0 5H10M5 0V10";
const starMark = "path://M5 0V10M0 5H10M1.5 1.5L8.5 8.5M8.5 1.5L1.5 8.5";
const LEFT_FONT = "DejaVu Sans";
const RIGHT_FONT = "DejaVu Sans";

const gridA = { left: 88, top: 62, width: 534, height: 481 };
const gridB = { left: 929, top: 39, width: 750, height: 500 };

const expLabel = (minus: string) => (v: number) => {
  const e = Math.round(Math.log10(v));
  return `{b|10}{s|${e < 0 ? minus + Math.abs(e) : e}}`;
};

function buildOption() {
  const cells: [number, number, number][] = [];
  matrixRows.forEach((row, r) =>
    row.forEach((v, c) => {
      if (v !== null) cells.push([c, fluxBins.length - 1 - r, v]);
    })
  );
  const ephin: [number, number][] = [...ephinPoints];
  ephinBands.forEach((b) => b.levels.forEach((l) => b.times.forEach((t) => ephin.push([t, l]))));
  const toFlux = (a: [number, number][]) => a.map(([t, l]) => [t, Math.pow(10, l)]);

  const leftLabelStyle = {
    fontFamily: LEFT_FONT,
    color: "#222",
    rich: {
      b: { fontFamily: LEFT_FONT, fontSize: 18, color: "#222" },
      s: { fontFamily: LEFT_FONT, fontSize: 12, color: "#222", verticalAlign: "top", padding: [0, 0, 8, 0] },
    },
  };
  const rightLabelStyle = {
    fontFamily: RIGHT_FONT,
    color: "#333",
    rich: {
      b: { fontFamily: RIGHT_FONT, fontSize: 21, color: "#333" },
      s: { fontFamily: RIGHT_FONT, fontSize: 15, color: "#333", verticalAlign: "top", padding: [0, 0, 9, 0] },
    },
  };
  const black = { lineStyle: { color: "#111", width: 1 } };
  const noSplit = { splitLine: { show: false } };
  const mirror = { axisLabel: { show: false }, z: 5, ...noSplit, axisLine: { show: true, ...black } };

  return {
    animation: false,
    backgroundColor: "#fff",
    title: [
      { text: "60 minutes forecast matrix p2", left: 355, top: 33, textAlign: "center", textStyle: { fontFamily: LEFT_FONT, fontSize: 22, fontWeight: "normal", color: "#222" } },
      { text: "proton flux vs. forecast 2012 (15.8−39.8 MeV)", left: 1296, top: 3, textAlign: "center", textStyle: { fontFamily: RIGHT_FONT, fontSize: 27, fontWeight: "normal", color: "#333" } },
    ],
    grid: [
      { ...gridA },
      { ...gridA },
      { ...gridA },
      { left: 657, top: 62, width: 24, height: 481, show: true, borderColor: "#333", borderWidth: 1, z: 10, backgroundColor: "transparent" },
      { ...gridB },
    ],
    visualMap: {
      type: "continuous",
      seriesIndex: 0,
      min: -5,
      max: 3,
      left: 657,
      top: 62,
      padding: 0,
      itemWidth: 24,
      itemHeight: 481,
      calculable: false,
      hoverLink: false,
      showLabel: false,
      text: undefined,
      inRange: { color: spectralColors },
    },
    xAxis: [
      { gridIndex: 0, type: "category", data: riseBins, show: false, position: "top" },
      {
        gridIndex: 1, type: "log", min: 0.001, max: 0.4, position: "bottom", z: 5, ...noSplit,
        axisLine: { show: true, ...black },
        axisTick: { show: true, inside: true, length: 6, customValues: riseMajor, ...black },
        axisLabel: { customValues: riseMajor, formatter: expLabel("-"), margin: 9, ...leftLabelStyle },
        name: "rise parameter", nameLocation: "middle", nameGap: 38,
        nameTextStyle: { fontFamily: LEFT_FONT, fontSize: 18, color: "#222" },
      },
      { gridIndex: 1, type: "log", min: 0.001, max: 0.4, position: "top", ...mirror, axisTick: { show: true, inside: true, length: 6, customValues: riseMajor, ...black } },
      { gridIndex: 2, type: "log", min: 0.001, max: 0.4, position: "bottom", ...mirror, axisTick: { show: true, inside: true, length: 3, customValues: riseMinor, ...black } },
      { gridIndex: 2, type: "log", min: 0.001, max: 0.4, position: "top", ...mirror, axisTick: { show: true, inside: true, length: 3, customValues: riseMinor, ...black } },
      { gridIndex: 3, type: "value", min: 0, max: 1, show: false },
      {
        gridIndex: 4, type: "value", min: 66, max: 68, interval: 0.5, position: "bottom", ...noSplit, z: 5,
        axisLine: { show: true, lineStyle: { color: "#777", width: 1 } },
        axisTick: { show: true, inside: true, length: 11, lineStyle: { color: "#555" } },
        minorTick: { show: true, splitNumber: 5, length: 5, lineStyle: { color: "#555" } },
        axisLabel: {
          margin: 11,
          fontFamily: RIGHT_FONT,
          fontSize: 21,
          color: "#333",
          formatter: (v: number) => doyMajorLabels[Math.round((v - 66) * 2)],
        },
        name: "doy", nameLocation: "middle", nameGap: 42,
        nameTextStyle: { fontFamily: RIGHT_FONT, fontSize: 22, color: "#333" },
      },
      {
        gridIndex: 4, type: "value", min: 66, max: 68, interval: 0.5, position: "top", ...noSplit, z: 5,
        axisLine: { show: true, lineStyle: { color: "#555", width: 1 } },
        axisTick: { show: true, inside: true, length: 11, lineStyle: { color: "#555" } },
        minorTick: { show: true, splitNumber: 5, length: 5, lineStyle: { color: "#555" } },
        axisLabel: { show: false },
      },
    ],
    yAxis: [
      { gridIndex: 0, type: "category", data: fluxBins, show: false, position: "right" },
      {
        gridIndex: 1, type: "log", min: 0.01, max: 20000, position: "left", z: 5, ...noSplit,
        axisLine: { show: true, ...black },
        axisTick: { show: true, inside: true, length: 6, customValues: eFluxMajor, ...black },
        axisLabel: { customValues: eFluxMajor, formatter: expLabel("-"), margin: 10, ...leftLabelStyle },
        name: "e flux / cm**2*sr*s*MeV", nameLocation: "middle", nameGap: 58,
        nameTextStyle: { fontFamily: LEFT_FONT, fontSize: 18, color: "#222" },
      },
      { gridIndex: 1, type: "log", min: 0.01, max: 20000, position: "right", ...mirror, axisTick: { show: true, inside: true, length: 6, customValues: eFluxMajor, ...black } },
      { gridIndex: 2, type: "log", min: 0.01, max: 20000, position: "left", ...mirror, axisTick: { show: true, inside: true, length: 3, customValues: eFluxMinor, ...black } },
      { gridIndex: 2, type: "log", min: 0.01, max: 20000, position: "right", ...mirror, axisTick: { show: true, inside: true, length: 3, customValues: eFluxMinor, ...black } },
      {
        gridIndex: 3, type: "value", min: -5, max: 3, interval: 1, position: "right", z: 10, ...noSplit,
        axisLine: { show: true, lineStyle: { color: "#333" } },
        axisTick: { show: true, inside: true, length: 5, lineStyle: { color: "#333" } },
        axisLabel: { margin: 5, fontFamily: LEFT_FONT, fontSize: 18, color: "#222", formatter: (v: number) => (v < 0 ? "−" + Math.abs(v) : String(v)) },
        name: "log proton flux", nameLocation: "middle", nameGap: 38, nameRotate: 90,
        nameTextStyle: { fontFamily: LEFT_FONT, fontSize: 18, color: "#222" },
      },
      {
        gridIndex: 4, type: "log", min: 0.0001, max: 1000, position: "left", z: 5, ...noSplit,
        axisLine: { show: true, lineStyle: { color: "#555", width: 1 } },
        axisTick: { show: true, inside: true, length: 15, lineStyle: { color: "#555" } },
        axisLabel: { margin: 8, formatter: expLabel("−"), ...rightLabelStyle },
        name: "pr2 / (cm²*s*str*MeV)", nameLocation: "middle", nameGap: 72,
        nameTextStyle: { fontFamily: RIGHT_FONT, fontSize: 23, color: "#333" },
      },
      {
        gridIndex: 4, type: "log", min: 0.0001, max: 1000, position: "right", z: 5, ...noSplit,
        axisLine: { show: true, lineStyle: { color: "#999", width: 2 } },
        axisTick: { show: true, inside: true, length: 15, lineStyle: { color: "#777" } },
        axisLabel: { show: false },
      },
    ],
    series: [
      { type: "heatmap", xAxisIndex: 0, yAxisIndex: 0, data: cells, silent: true, z: 2 },
      { name: legendLabels[0], type: "scatter", xAxisIndex: 6, yAxisIndex: 6, data: toFlux([...protonFlux, ...protonFluxDense]), symbol: plusMark, symbolSize: 11, symbolKeepAspect: true, silent: true, z: 2, itemStyle: { color: "transparent", borderColor: "#111111", borderWidth: 1.2, opacity: 1 } },
      { name: legendLabels[1], type: "scatter", xAxisIndex: 6, yAxisIndex: 6, data: toFlux(ephin), symbol: starMark, symbolSize: 9, symbolKeepAspect: true, silent: true, z: 3, itemStyle: { color: "transparent", borderColor: "#ff1010", borderWidth: 1.5, opacity: 1 } },
      { name: legendLabels[2], type: "scatter", xAxisIndex: 6, yAxisIndex: 6, data: toFlux(epamPoints), symbol: starMark, symbolSize: 8, symbolKeepAspect: true, silent: true, z: 4, itemStyle: { color: "transparent", borderColor: "#14ee14", borderWidth: 1.4, opacity: 1 } },
    ],
    graphic: legendLabels.map((t, i) => ({
      type: "text",
      x: 1026,
      y: [72, 109, 148][i],
      style: { text: t, fill: legendColors[i], font: `22px "${RIGHT_FONT}"`, textVerticalAlign: "middle" },
    })),
  };
}

export default function App() {
  const ref = useRef<HTMLDivElement>(null);
  useEffect(() => {
    const chart = echarts.init(ref.current!, undefined, { renderer: "svg" });
    chart.setOption(buildOption() as any);
    return () => chart.dispose();
  }, []);
  return <div ref={ref} style={{ position: "fixed", left: 0, top: 0, width: 1716, height: 607 }} />;
}
